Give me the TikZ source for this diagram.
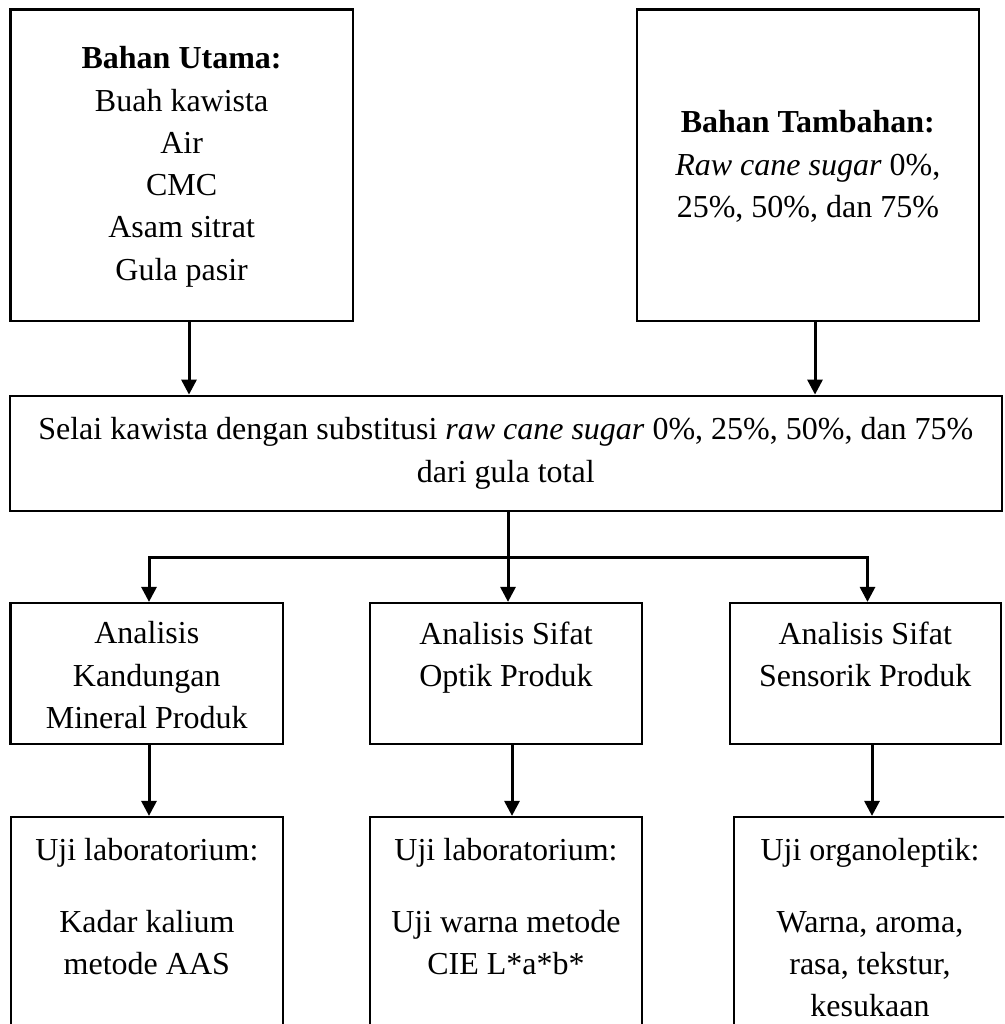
\documentclass[tikz,border=0pt]{standalone}
\usepackage{fontspec}
\setmainfont{Liberation Serif}
\usetikzlibrary{arrows.meta}
\tikzset{
  box/.style={draw=black, line width=2.2pt, fill=white, inner sep=0pt},
  txt/.style={align=center, inner sep=0pt, font=\fontsize{32}{42.3}\selectfont},
  arr/.style={line width=3pt, -{Triangle[width=15pt,length=15pt]}},
}
\begin{document}
\begin{tikzpicture}[x=1pt,y=-1pt]
\useasboundingbox (0,0) rectangle (1004,1024);
\clip (0,0) rectangle (1004,1024);
\fill[white] (0,0) rectangle (1004,1024);
% boxes
\node[box, minimum width=342.2pt, minimum height=311.2pt] (tl) at (181.6,165.1) {};
\node[box, minimum width=342.3pt, minimum height=311.2pt] (tr) at (807.85,165.1) {};
\node[box, txt, minimum width=991.7pt, minimum height=115pt] (m) at (505.85,453.2)
  {Selai kawista dengan substitusi \textit{raw cane sugar} 0\%, 25\%, 50\%, dan 75\%\\dari gula total};
\node[box, minimum width=272.5pt, minimum height=141pt] (a1) at (146.75,673.5) {};
\node[box, minimum width=272pt, minimum height=141pt] (a2) at (506,673.5) {};
\node[box, minimum width=271pt, minimum height=141pt] (a3) at (865.25,673.5) {};
\node[box, minimum width=272.3pt, minimum height=230pt] (b1) at (146.85,932) {};
\node[box, minimum width=272pt, minimum height=230pt] (b2) at (506,932) {};
\node[box, minimum width=272pt, minimum height=230pt] (b3) at (870,932) {};
% texts
\node[txt] (ttl) at (181.6,166.8)
  {\textbf{Bahan Utama:}\\Buah kawista\\Air\\CMC\\Asam sitrat\\Gula pasir};
\node[txt] (ttr) at (807.85,166.5)
  {\textbf{Bahan Tambahan:}\\\textit{Raw cane sugar} 0\%,\\25\%, 50\%, dan 75\%};
\node[txt, anchor=north] (ta1) at (146.75,621.5) {Analisis\\Kandungan\\Mineral Produk};
\node[txt, anchor=north] (ta2) at (506,621.5) {Analisis Sifat\\Optik Produk};
\node[txt, anchor=north] (ta3) at (865.25,621.5) {Analisis Sifat\\Sensorik Produk};
\node[txt, anchor=north] (tb1) at (146.85,838.5) {Uji laboratorium:\\[29pt]Kadar kalium\\metode AAS};
\node[txt, anchor=north] (tb2) at (506,838.5) {Uji laboratorium:\\[29pt]Uji warna metode\\CIE L*a*b*};
\node[txt, anchor=north] (tb3) at (870,838.5) {Uji organoleptik:\\[29pt]Warna, aroma,\\rasa, tekstur,\\kesukaan};
% connector coordinates
\coordinate (x1) at (189,0);
\coordinate (x2) at (815,0);
\coordinate (c1) at (149,557);
\coordinate (c2) at (508,557);
\coordinate (c3) at (867.5,557);
\coordinate (d1) at (149,0);
\coordinate (d2) at (512,0);
\coordinate (d3) at (872,0);
% connectors
\draw[arr] (tl.south -| x1) -- (m.north -| x1);
\draw[arr] (tr.south -| x2) -- (m.north -| x2);
\draw[arr] (m.south -| c2) -- (a2.north -| c2);
\draw[arr] (c3) -- (c1) -- (a1.north -| c1);
\draw[arr] (c1) -- (c3) -- (a3.north -| c3);
\draw[arr] (a1.south -| d1) -- (b1.north -| d1);
\draw[arr] (a2.south -| d2) -- (b2.north -| d2);
\draw[arr] (a3.south -| d3) -- (b3.north -| d3);
\end{tikzpicture}
\end{document}
